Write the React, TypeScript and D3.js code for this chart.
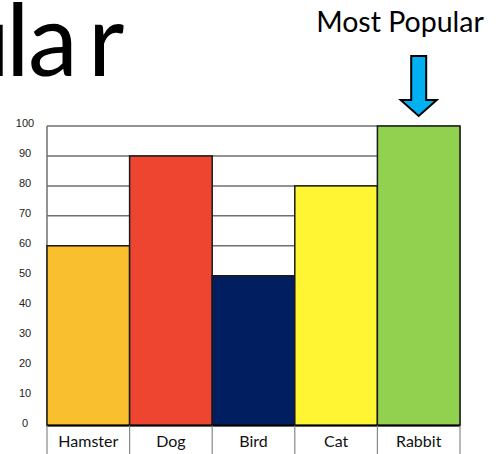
import React from "react";
import * as d3 from "d3";

const categories = ["Hamster", "Dog", "Bird", "Cat", "Rabbit"];
const values = [60, 90, 50, 80, 100];
const colors = ["#F9BF2F", "#EE4530", "#001E60", "#FFF533", "#92D050"];
const yTicks = [0, 10, 20, 30, 40, 50, 60, 70, 80, 90, 100];
const title = "ular";
const annotation = "Most Popular";

const W = 501;
const H = 454;

export default function App() {
  const x = d3.scaleBand<string>().domain(categories).range([47, 460]).padding(0);
  const y = d3.scaleLinear().domain([0, 100]).range([425.5, 126]);
  const bw = x.bandwidth();
  const maxIdx = values.indexOf(d3.max(values) as number);
  const ax = (x(categories[maxIdx]) as number) + bw / 2;
  const arrowTop = 56;
  const shaftBottom = 100;
  const tip = 116;
  const arrowPath = d3.path();
  arrowPath.moveTo(ax - 7.5, arrowTop);
  arrowPath.lineTo(ax + 7.5, arrowTop);
  arrowPath.lineTo(ax + 7.5, shaftBottom);
  arrowPath.lineTo(ax + 18, shaftBottom);
  arrowPath.lineTo(ax, tip);
  arrowPath.lineTo(ax - 18, shaftBottom);
  arrowPath.lineTo(ax - 7.5, shaftBottom);
  arrowPath.closePath();

  return (
    <div style={{ position: "fixed", left: 0, top: 0, width: W, height: H, overflow: "hidden", background: "#fff" }}>
      <svg width={W} height={H} style={{ display: "block" }}>
        <rect width={W} height={H} fill="#fff" />
        <text x="-46 6 28 88" y={76} fontFamily="Lato, 'Noto Sans', sans-serif" fontSize={100} fill="#000">
          {title}
        </text>
        <text x={400} y={32} textAnchor="middle" fontFamily="Lato, 'Noto Sans', sans-serif" fontSize={28.5} fill="#000">
          {annotation}
        </text>
        <path d={arrowPath.toString()} fill="#00B0F0" stroke="#000" strokeWidth={2} strokeLinejoin="miter" />
        {/* gridlines */}
        {yTicks.filter((t) => t > 0).map((t) => (
          <line key={t} x1={47} x2={460} y1={y(t)} y2={y(t)} stroke="#6f6f6f" strokeWidth={1.5} />
        ))}
        <line x1={47} x2={47} y1={y(100)} y2={y(0)} stroke="#6f6f6f" strokeWidth={1.5} />
        <line x1={460} x2={460} y1={y(100)} y2={y(0)} stroke="#6f6f6f" strokeWidth={1.5} />
        {/* bars */}
        {categories.map((c, i) => (
          <rect
            key={c}
            x={x(c) as number}
            y={y(values[i])}
            width={bw}
            height={y(0) - y(values[i])}
            fill={colors[i]}
            stroke="#1a1a1a"
            strokeWidth={1.5}
          />
        ))}
        {/* baseline */}
        <line x1={47} x2={460} y1={y(0)} y2={y(0)} stroke="#000" strokeWidth={2} />
        {/* category cells */}
        {categories.map((c) => (
          <line key={"s" + c} x1={x(c) as number} x2={x(c) as number} y1={y(0)} y2={H} stroke="#888" strokeWidth={1.2} />
        ))}
        <line x1={460} x2={460} y1={y(0)} y2={H} stroke="#888" strokeWidth={1.2} />
        {categories.map((c) => (
          <text key={"t" + c} x={(x(c) as number) + bw / 2} y={447} textAnchor="middle" fontFamily="Lato, 'Noto Sans', sans-serif" fontSize={16} fill="#111">
            {c}
          </text>
        ))}
        {/* y tick labels */}
        {yTicks.map((t) => (
          <text key={"y" + t} x={25} y={y(t) + 1} textAnchor="middle" fontFamily="'Liberation Sans', Arial, sans-serif" fontSize={11} fill="#222">
            {t}
          </text>
        ))}
      </svg>
    </div>
  );
}
